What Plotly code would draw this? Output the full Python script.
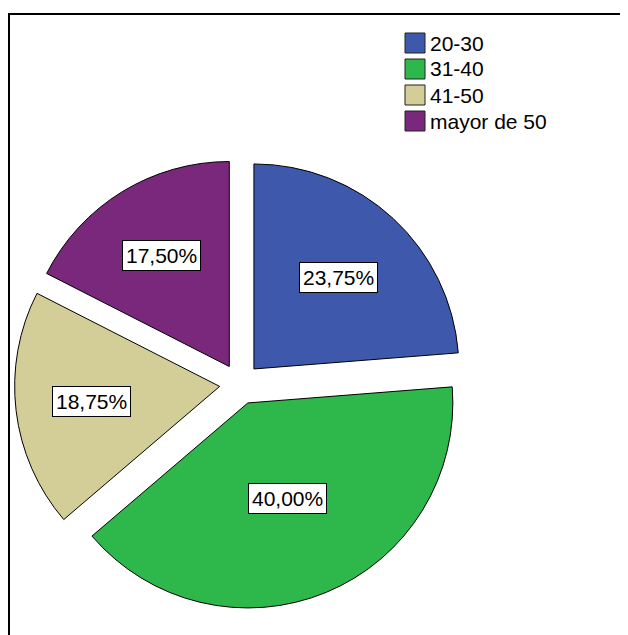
import math
import plotly.graph_objects as go

categories = ["20-30", "31-40", "41-50", "mayor de 50"]
percentages = [23.75, 40.00, 18.75, 17.50]
colors = ["#3E58AC", "#2EB84B", "#D3CE97", "#7A287C"]

W, H = 628, 635
# pie box in pixels (figure coords)
bx0, bx1 = 6.5, 457.5
by0, by1 = 150.5, 601.5
pull = 0.1
FONT = "Liberation Sans, Arial"

fig = go.Figure()
fig.add_trace(go.Pie(
    labels=categories,
    values=percentages,
    sort=False,
    direction="clockwise",
    rotation=0,
    pull=[pull] * len(percentages),
    marker=dict(colors=colors, line=dict(color="#000000", width=1)),
    textinfo="none",
    hoverinfo="label+percent",
    showlegend=False,
    domain=dict(x=[bx0 / W, bx1 / W], y=[1 - by1 / H, 1 - by0 / H]),
))

# label boxes at sector centroids (computed from the values)
cx, cy = (bx0 + bx1) / 2, (by0 + by1) / 2
r = min(bx1 - bx0, by1 - by0) / (2 + 2 * pull)
total = sum(percentages)
start = 0.0
annotations = []
for v in percentages:
    frac = v / total
    half = math.pi * frac
    mid = 2 * math.pi * start + half
    ux, uy = math.sin(mid), -math.cos(mid)
    dist = pull * r + 2 * r * math.sin(half) / (3 * half)
    px, py = cx + ux * dist, cy + uy * dist
    annotations.append(dict(
        x=px / W, y=1 - py / H, xref="paper", yref="paper",
        text=f"{v:.2f}%".replace(".", ","), showarrow=False,
        font=dict(family=FONT, size=21, color="#000000"),
        bgcolor="#FFFFFF", bordercolor="#000000", borderwidth=1, borderpad=3,
        xanchor="center", yanchor="middle",
    ))
    start += frac

# legend (swatches + text)
shapes = []
lx, ly0, step, sw = 397, 35, 26, 20
for i, (cat, col) in enumerate(zip(categories, colors)):
    yc = ly0 + step * i
    shapes.append(dict(type="rect", xref="paper", yref="paper",
                       x0=lx / W, x1=(lx + sw) / W,
                       y0=1 - (yc - sw / 2) / H, y1=1 - (yc + sw / 2) / H,
                       fillcolor=col, line=dict(color="#222222", width=1)))
    annotations.append(dict(
        x=(lx + sw + 3) / W, y=1 - yc / H, xref="paper", yref="paper",
        text=cat, showarrow=False, xanchor="left", yanchor="middle",
        font=dict(family=FONT, size=21, color="#000000"),
    ))

shapes.append(dict(type="rect", xref="paper", yref="paper",
                   x0=1 / W, y0=1 - 6 / H, x1=1.1, y1=-0.1,
                   line=dict(color="#000000", width=2), layer="above"))

fig.update_layout(
    width=W, height=H,
    margin=dict(l=0, r=0, t=0, b=0),
    paper_bgcolor="#FFFFFF", plot_bgcolor="#FFFFFF",
    showlegend=False,
    annotations=annotations,
    shapes=shapes,
)

fig.write_html("out.html")
